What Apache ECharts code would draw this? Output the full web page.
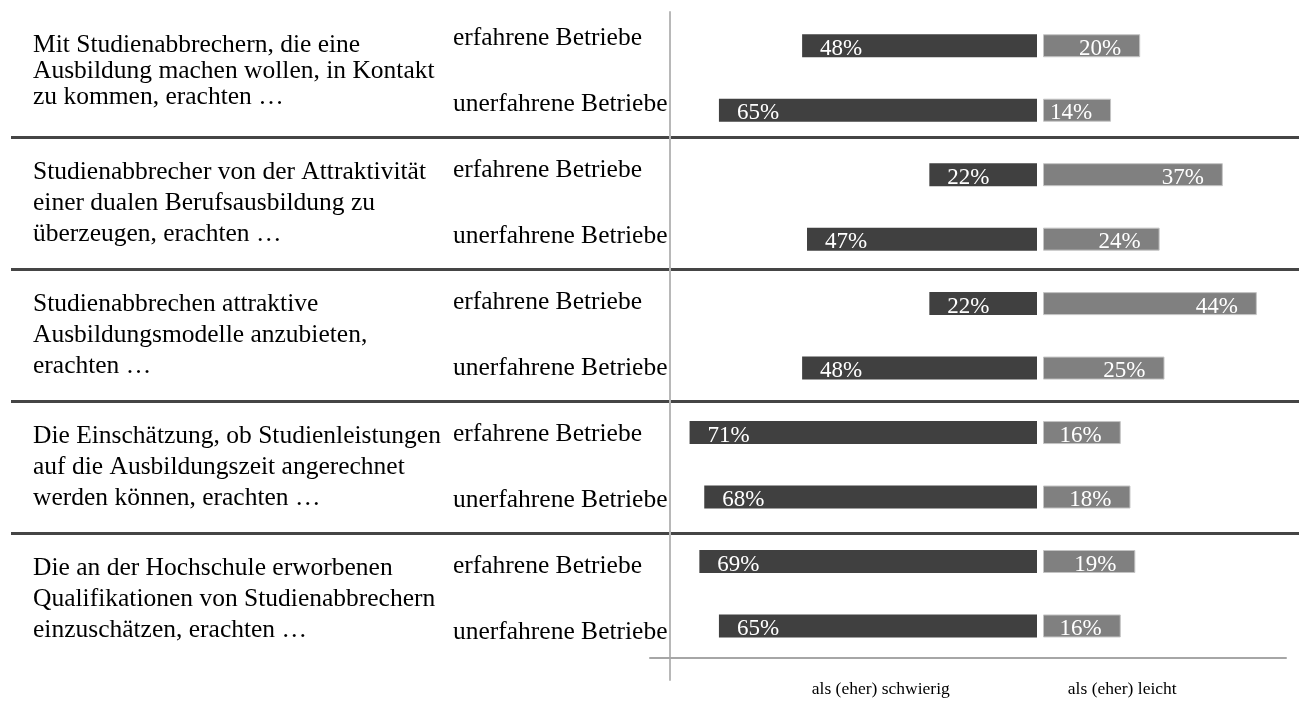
<!DOCTYPE html>
<html><head><meta charset="utf-8">
<script src="https://cdn.jsdelivr.net/npm/echarts@6/dist/echarts.min.js"></script>
<style>html,body{margin:0;padding:0;background:#fff}#c{width:1302px;height:711px}</style>
</head><body><div id="c"></div>
<script>
const groups = [
  'Mit Studienabbrechern, die eine\nAusbildung machen wollen, in Kontakt\nzu kommen, erachten …',
  'Studienabbrecher von der Attraktivität\neiner dualen Berufsausbildung zu\nüberzeugen, erachten …',
  'Studienabbrechen attraktive\nAusbildungsmodelle anzubieten,\nerachten …',
  'Die Einschätzung, ob Studienleistungen\nauf die Ausbildungszeit angerechnet\nwerden können, erachten …',
  'Die an der Hochschule erworbenen\nQualifikationen von Studienabbrechern\neinzuschätzen, erachten …'
];
const rows = [
  'erfahrene Betriebe', 'unerfahrene Betriebe',
  'erfahrene Betriebe', 'unerfahrene Betriebe',
  'erfahrene Betriebe', 'unerfahrene Betriebe',
  'erfahrene Betriebe', 'unerfahrene Betriebe',
  'erfahrene Betriebe', 'unerfahrene Betriebe'
];
const schwierig = [48, 65, 22, 47, 22, 48, 71, 68, 69, 65];
const leicht = [20, 14, 37, 24, 44, 25, 16, 18, 19, 16];
const scaleLabels = ['als (eher) schwierig', 'als (eher) leicht'];

const FONT = '"Liberation Serif", "Times New Roman", serif';
const chart = echarts.init(document.getElementById('c'), null, {renderer: 'canvas'});

const hiddenAxis = {show: false};
const lineOnly = (color, width) => ({
  axisLine: {show: true, onZero: false, lineStyle: {color: color, width: width}},
  axisTick: {show: false}, axisLabel: {show: false}, splitLine: {show: false}
});

// per-group text block tweaks (line spacing / vertical nudge)
const groupItems = groups.map(function (g, i) {
  if (i === 0) return {value: g, textStyle: {lineHeight: 26, padding: [14, 0, 0, 0]}};
  if (i === 1) return {value: g, textStyle: {padding: [16, 0, 0, 0]}};
  return g;
});

chart.setOption({
  animation: false,
  backgroundColor: '#ffffff',
  grid: [
    {left: 11, right: 3, top: 5, bottom: 46},
    {left: 670, right: 265, top: 13.5, bottom: 52.8},
    {left: 1043, right: 16, top: 13.5, bottom: 52.8},
    {left: 650, right: 16, top: 13, bottom: 53},
    {left: 670, width: 10, top: 12, bottom: 31},
    {left: 760, right: 59, top: 668, bottom: 35}
  ],
  xAxis: [
    Object.assign({gridIndex: 0, type: 'value'}, hiddenAxis),
    Object.assign({gridIndex: 1, type: 'value', min: 0, max: 75, inverse: true}, hiddenAxis),
    Object.assign({gridIndex: 2, type: 'value', min: 0, max: 50}, hiddenAxis),
    Object.assign({gridIndex: 3, type: 'value', min: 0, max: 1}, lineOnly('#a6a6a6', 2)),
    Object.assign({gridIndex: 4, type: 'value'}, hiddenAxis),
    {gridIndex: 5, type: 'category', data: scaleLabels,
     axisLine: {show: false}, axisTick: {show: false}, splitLine: {show: false},
     axisLabel: {interval: 0, margin: 4, color: '#000', fontSize: 17.5, fontFamily: FONT}}
  ],
  yAxis: [
    {gridIndex: 0, type: 'category', data: groupItems, inverse: true, position: 'left',
     axisLine: {show: false}, axisTick: {show: false},
     splitLine: {show: true, showMinLine: false, showMaxLine: false,
                 lineStyle: {color: '#454545', width: 3}},
     axisLabel: {inside: true, margin: 22, align: 'left', interval: 0,
       color: '#000', fontSize: 25.5, lineHeight: 31, fontFamily: FONT}},
    {gridIndex: 0, type: 'category', data: rows, inverse: true, position: 'left',
     axisLine: {show: false}, axisTick: {show: false}, splitLine: {show: false},
     axisLabel: {inside: true, margin: 442, align: 'left', interval: 0,
       color: '#000', fontSize: 25.5, fontFamily: FONT}},
    Object.assign({gridIndex: 1, type: 'category', data: rows, inverse: true}, hiddenAxis),
    Object.assign({gridIndex: 2, type: 'category', data: rows, inverse: true}, hiddenAxis),
    Object.assign({gridIndex: 3, type: 'category', data: rows, inverse: true}, hiddenAxis),
    Object.assign({gridIndex: 4, type: 'value', min: 0, max: 1}, lineOnly('#b8b8b8', 2)),
    Object.assign({gridIndex: 5, type: 'value'}, hiddenAxis)
  ],
  series: [
    {type: 'bar', name: 'als (eher) schwierig', xAxisIndex: 1, yAxisIndex: 2,
     data: schwierig, barWidth: 23,
     itemStyle: {color: '#404040'},
     label: {show: true, position: 'insideLeft', distance: 18, offset: [0, 3],
       color: '#fff', fontSize: 23, fontFamily: FONT, formatter: '{c}%'}},
    {type: 'bar', name: 'als (eher) leicht', xAxisIndex: 2, yAxisIndex: 3,
     data: leicht, barWidth: 23,
     itemStyle: {color: '#808080', borderColor: '#c4c4c4', borderWidth: 1},
     label: {show: true, position: 'insideRight', distance: 19, offset: [0, 3],
       color: '#fff', fontSize: 23, fontFamily: FONT, formatter: '{c}%'}}
  ]
});
</script>
</body></html>
